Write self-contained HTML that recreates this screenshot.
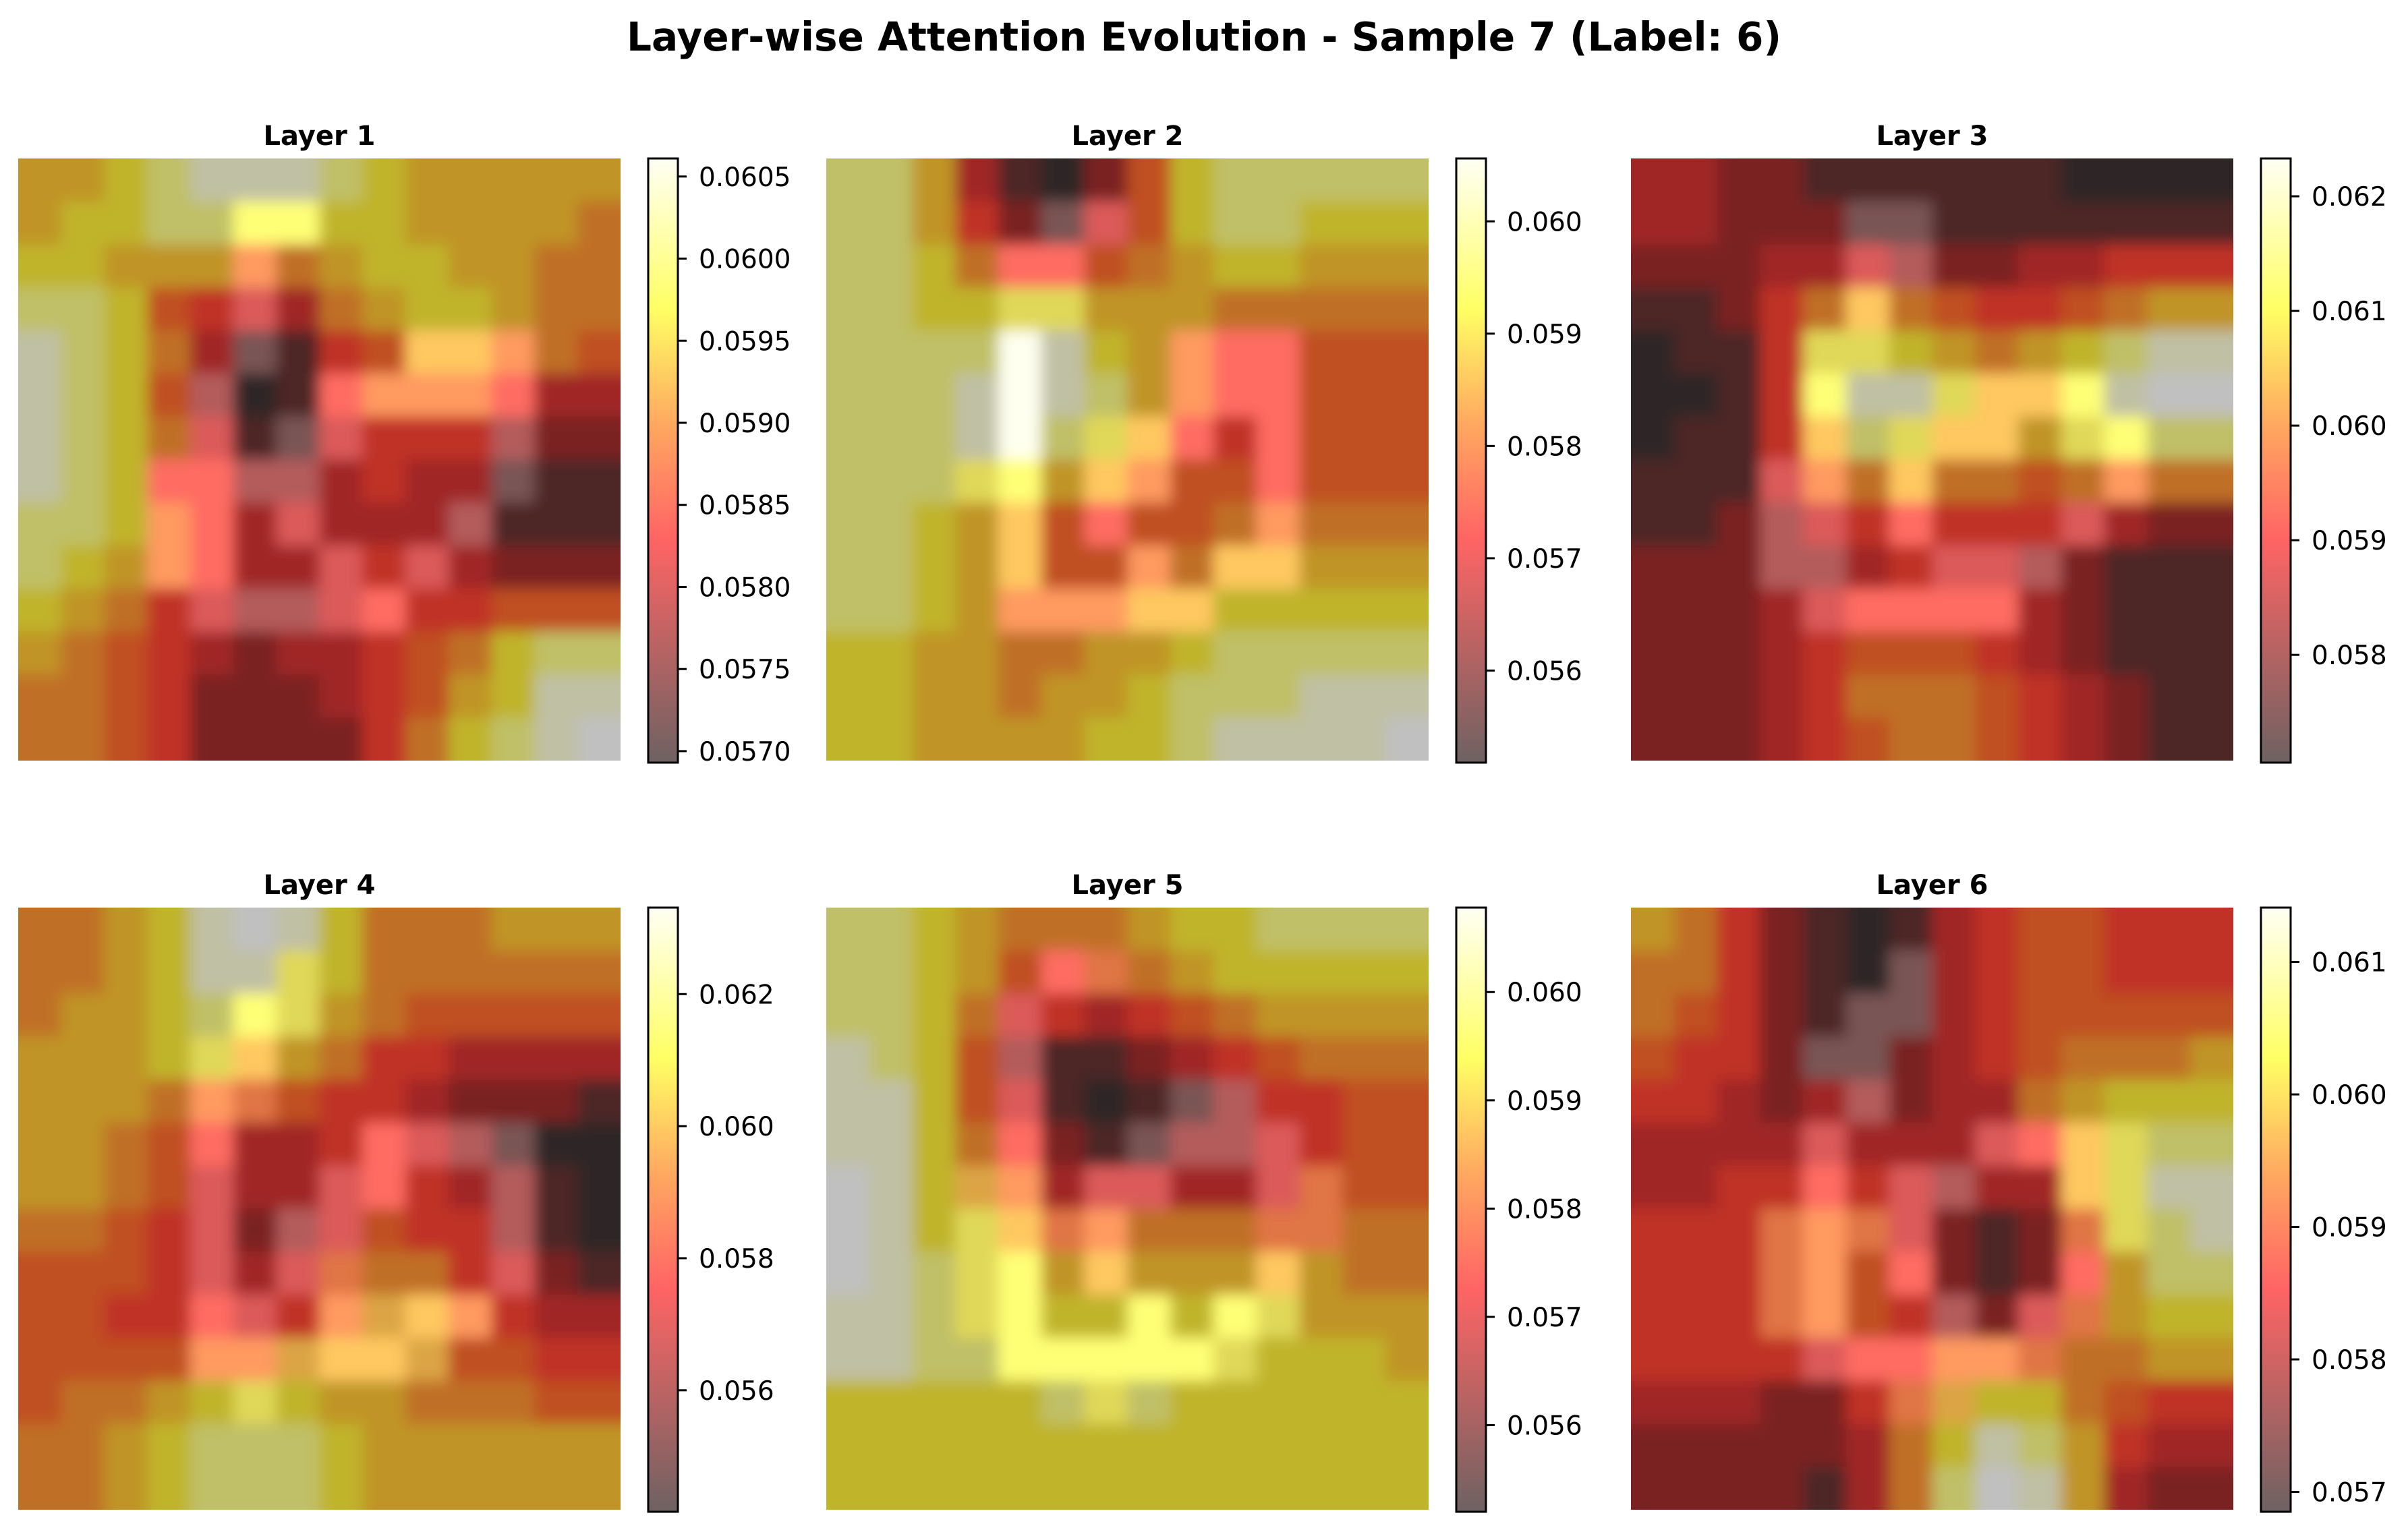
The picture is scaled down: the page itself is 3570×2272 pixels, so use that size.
<!DOCTYPE html>
<html>
<head>
<meta charset="utf-8">
<style>
html,body{margin:0;padding:0;background:#fff;}
svg{display:block;}
text{font-family:"DejaVu Sans","Liberation Sans",sans-serif;}
</style>
</head>
<body>
<svg id="fig" xmlns="http://www.w3.org/2000/svg" width="3570" height="2272" viewBox="0 0 3570 2272">
  <defs id="defs">
    <linearGradient id="cmap" x1="0" y1="1" x2="0" y2="0">
      <stop offset="0" stop-color="#6e6262"/>
      <stop offset="0.37" stop-color="#ff6464"/>
      <stop offset="0.56" stop-color="#ffa860"/>
      <stop offset="0.75" stop-color="#ffff64"/>
      <stop offset="1" stop-color="#fffff4"/>
    </linearGradient>
  </defs>
  <rect x="0" y="0" width="3570" height="2272" fill="#ffffff"/>
  <text x="1785" y="75" text-anchor="middle" font-size="59" font-weight="bold" textLength="1712" lengthAdjust="spacingAndGlyphs">Layer-wise Attention Evolution - Sample 7 (Label: 6)</text>
  <g id="panels"></g>
</svg>
<script>
// ---- data: attention level grids (14x14, level codes) ----
const layerTitles = ["Layer 1","Layer 2","Layer 3","Layer 4","Layer 5","Layer 6"];
const grid1 = ["7789AAA9877777","78899uu8877776","88777s67887766","99854q36788766","A9863m145tts65","A985p01rsssr33","A986q1mq444p22","A98rrpp3433m11","998sr3q333p111","987sr33q4q3222","8764qppqr44555","76543233456899","665422234578AA","665422224689AB"];
const grid2 = ["99731025899999","99742mq5899888","9986rr56788777","9988vv77766666","9999wA87srr555","999AwA97srr555","999Aw9vtr4r555","999vu7ts55r555","9987t5r556s666","9987t55s6tt777","9987ssstt88888","88776677899999","88776778999AAA","887777889AAAAB"];
const grid3 = ["33221111110000","33222mm1111111","22233qp2233444","11246t65445677","0114vv876789AA","0014uAAvttuABB","0114t9vtt7vu99","111qs6t6656s66","112pq4r444q322","222pp34qqp2111","2223qrrrr32111","22234555432111","22234666543211","22234566543211"];
const grid4 = ["6678ABA8666777","6678AAv8666666","67789uv7655555","7778vt76443333","7776so54432221","7765r334rqpm00","7765q33qr43p10","6654q2pq544p10","5554q3qo664q21","5544rq4snts433","5555ssnttn5544","56678v87766655","66789998777777","66789998777777"];
const grid5 = ["99876667889999","99875ro6788888","9986q434567777","A985p112345666","AA85q101mp4455","AA86r21mppq455","BA8ns3qq33qo55","BA8vtos666oo66","BA9vu7t777t766","AA9vu88u8uv777","AA99uuuuuv8887","888889v9888888","88888888888888","88888888888888"];
const grid6 = ["76421013455444","664210m3455444","65421mm3455555","5442mm23456667","44323p23367888","3333q333qrtv99","3344r4qp33tvAA","444osoq212ov9A","444os5r212r799","444os54p2qo788","4444qrrsso6677","333224on886544","22222368A97433","22221369BA7322"];
const grids = [grid1, grid2, grid3, grid4, grid5, grid6];
// colorbar ranges and ticks
const cbMin = [0.05693, 0.05518, 0.05706, 0.05416, 0.0552, 0.05685];
const cbMax = [0.06061, 0.06056, 0.06233, 0.06331, 0.06078, 0.06141];
const tickVals1 = [0.0570,0.0575,0.0580,0.0585,0.0590,0.0595,0.0600,0.0605];
const tickLabels1 = ["0.0570","0.0575","0.0580","0.0585","0.0590","0.0595","0.0600","0.0605"];
const tickVals2 = [0.056,0.057,0.058,0.059,0.060];
const tickLabels2 = ["0.056","0.057","0.058","0.059","0.060"];
const tickVals3 = [0.058,0.059,0.060,0.061,0.062];
const tickLabels3 = ["0.058","0.059","0.060","0.061","0.062"];
const tickVals4 = [0.056,0.058,0.060,0.062];
const tickLabels4 = ["0.056","0.058","0.060","0.062"];
const tickVals5 = [0.056,0.057,0.058,0.059,0.060];
const tickLabels5 = ["0.056","0.057","0.058","0.059","0.060"];
const tickVals6 = [0.057,0.058,0.059,0.060,0.061];
const tickLabels6 = ["0.057","0.058","0.059","0.060","0.061"];
const tickVals = [tickVals1,tickVals2,tickVals3,tickVals4,tickVals5,tickVals6];
const tickLabels = [tickLabels1,tickLabels2,tickLabels3,tickLabels4,tickLabels5,tickLabels6];
// level code -> colour (overlay colormap)
const levelColors = {
  "0":"#2e2828","1":"#4e2626","2":"#7a2424","3":"#a02626","4":"#c03028","5":"#c05022",
  "6":"#c07028","7":"#c09428","8":"#c0b42c","9":"#c0c068","A":"#c0c0a4","B":"#c0c0c0",
  "m":"#7a5454","p":"#b45c5c","q":"#dc5a5a","r":"#ff6c62","o":"#e07444","s":"#ff9a60",
  "n":"#dca444","t":"#ffc860","v":"#e0d858","u":"#ffff76","w":"#fffff0"
};

// ---- layout ----
const NS = "http://www.w3.org/2000/svg";
const panelLeft = [27, 1225, 2418];
const panelTop = [235, 1346];
const panelSize = 893;
const nCells = 14;
const pad = 48;
const root = document.getElementById("panels");
const defs = document.getElementById("defs");

function mk(tag, attrs) {
  const el = document.createElementNS(NS, tag);
  for (const k in attrs) el.setAttribute(k, attrs[k]);
  return el;
}

grids.forEach((grid, li) => {
  const px = panelLeft[li % 3];
  const py = panelTop[Math.floor(li / 3)];
  const xScale = c => px + c * panelSize / nCells;
  const yScale = r => py + r * panelSize / nCells;
  const g = mk("g", {});
  
  
  root.appendChild(g);

  const title = mk("text", {x: px + panelSize / 2, y: py - 20, "text-anchor": "middle", "font-size": 40, "font-weight": "bold"});
  title.textContent = layerTitles[li];
  
  
  g.appendChild(title);

  const flt = mk("filter", {id: "blur" + li, filterUnits: "userSpaceOnUse", x: px - 60, y: py - 60, width: panelSize + 120, height: panelSize + 120});
  flt.appendChild(mk("feGaussianBlur", {stdDeviation: 11}));
  defs.appendChild(flt);
  const clip = mk("clipPath", {id: "clip" + li});
  clip.appendChild(mk("rect", {x: px, y: py, width: panelSize, height: panelSize}));
  defs.appendChild(clip);

  const outer = mk("g", {"clip-path": "url(#clip" + li + ")"});
  g.appendChild(outer);
  const hm = mk("g", {filter: "url(#blur" + li + ")"});
  
  
  outer.appendChild(hm);
  grid.forEach((row, r) => {
    for (let c = 0; c < row.length; c++) {
      let x0 = xScale(c), x1 = xScale(c + 1) + 0.6, y0 = yScale(r), y1 = yScale(r + 1) + 0.6;
      if (c === 0) x0 -= pad;
      if (c === nCells - 1) x1 += pad;
      if (r === 0) y0 -= pad;
      if (r === nCells - 1) y1 += pad;
      const cell = mk("rect", {x: x0.toFixed(2), y: y0.toFixed(2), width: (x1 - x0).toFixed(2), height: (y1 - y0).toFixed(2), fill: levelColors[row[c]] || "#c0c0c0"});
      
      
      hm.appendChild(cell);
    }
  });

  // colorbar
  const cbX = px + 934, cbW = 44, cbTop = py, cbBot = py + panelSize + 3;
  const vScale = v => cbBot - (v - cbMin[li]) / (cbMax[li] - cbMin[li]) * (cbBot - cbTop);
  const cb = mk("g", {});
  
  
  g.appendChild(cb);
  const bar = mk("rect", {x: cbX, y: cbTop, width: cbW, height: cbBot - cbTop, fill: "url(#cmap)", stroke: "#000", "stroke-width": 3});
  
  
  cb.appendChild(bar);
  tickVals[li].forEach((v, i) => {
    const ty = vScale(v);
    const tk = mk("line", {x1: cbX + cbW, x2: cbX + cbW + 13, y1: ty, y2: ty, stroke: "#000", "stroke-width": 3});
    
    
    cb.appendChild(tk);
    const lb = mk("text", {x: cbX + cbW + 31, y: ty + 14, "font-size": 39});
    lb.textContent = tickLabels[li][i];
    
    
    cb.appendChild(lb);
  });
});
</script>
</body>
</html>
